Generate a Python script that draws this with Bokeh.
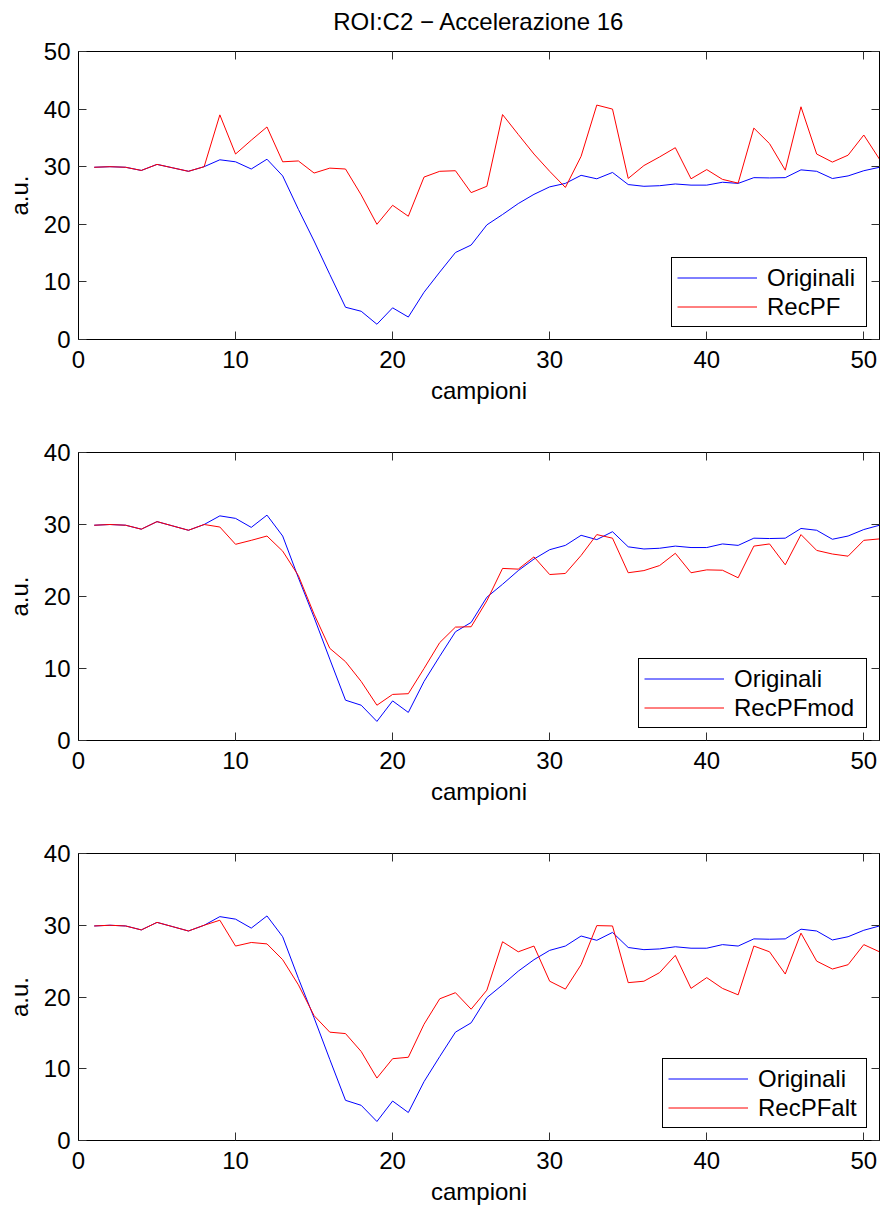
from bokeh.plotting import figure
from bokeh.layouts import column
from bokeh.models import FixedTicker, LinearAxis, Range1d
from bokeh.embed import file_html
from bokeh.resources import INLINE

campioni = list(range(1, 52))

originali = [29.9, 30.0, 29.9, 29.35, 30.4, 29.8, 29.2, 30.0, 31.2, 30.85,
             29.6, 31.3, 28.4, 22.6, 17.1, 11.3, 5.6, 4.9, 2.65, 5.5,
             3.9, 8.2, 11.7, 15.1, 16.4, 19.9, 21.7, 23.6, 25.2, 26.5,
             27.1, 28.5, 27.9, 29.0, 26.9, 26.6, 26.7, 27.0, 26.8, 26.8,
             27.3, 27.1, 28.1, 28.05, 28.1, 29.45, 29.2, 27.95, 28.4, 29.3,
             29.9]

recpf = [29.9, 30.0, 29.9, 29.35, 30.4, 29.8, 29.2, 30.0, 39.0, 32.2,
         34.6, 36.9, 30.85, 31.0, 28.9, 29.75, 29.6, 25.1, 20.0, 23.3,
         21.4, 28.2, 29.2, 29.3, 25.5, 26.6, 39.05, 35.6, 32.2, 29.2,
         26.4, 31.8, 40.7, 40.0, 27.96, 30.2, 31.7, 33.3, 27.9, 29.5,
         27.8, 27.15, 36.7, 34.0, 29.4, 40.4, 32.2, 30.8, 32.0, 35.5,
         31.3]

recpfmod = [29.9, 30.0, 29.9, 29.35, 30.4, 29.8, 29.2, 30.0, 29.65, 27.25,
            27.8, 28.4, 26.3, 22.9, 17.55, 12.8, 10.95, 8.2, 4.9, 6.4,
            6.5, 10.0, 13.6, 15.75, 15.8, 19.4, 23.9, 23.8, 25.5, 23.05,
            23.2, 25.7, 28.6, 28.1, 23.3, 23.6, 24.3, 26.0, 23.3, 23.7,
            23.65, 22.6, 27.0, 27.3, 24.4, 28.6, 26.4, 25.9, 25.6, 27.8,
            28.0]

recpfalt = [29.9, 30.0, 29.9, 29.35, 30.4, 29.8, 29.2, 30.0, 30.7, 27.1,
            27.6, 27.4, 25.2, 21.7, 17.4, 15.1, 14.9, 12.4, 8.7, 11.4,
            11.6, 16.2, 19.75, 20.6, 18.3, 20.95, 27.7, 26.3, 27.1, 22.2,
            21.1, 24.5, 29.95, 29.9, 22.0, 22.2, 23.4, 25.8, 21.2, 22.7,
            21.2, 20.3, 27.1, 26.3, 23.2, 28.9, 25.0, 23.9, 24.5, 27.3,
            26.3]

x_ticks = [0, 10, 20, 30, 40, 50]
y_ticks_1 = [0, 10, 20, 30, 40, 50]
y_ticks_23 = [0, 10, 20, 30, 40]

title_text = "ROI:C2 \u2212 Accelerazione 16"
x_label = "campioni"
y_label = "a.u."

FONT = "Liberation Sans"
FS = "24px"


def style_axis(ax, ticks, show_labels=True):
    ax.ticker = FixedTicker(ticks=ticks)
    ax.major_tick_in = 8
    ax.major_tick_out = 0
    ax.minor_tick_in = 0
    ax.minor_tick_out = 0
    ax.axis_line_color = "black"
    ax.major_tick_line_color = "#303030"
    ax.major_label_text_font = FONT
    ax.major_label_text_color = "black"
    ax.axis_label_text_font = FONT
    ax.axis_label_text_font_size = FS
    ax.axis_label_text_font_style = "normal"
    ax.axis_label_text_color = "black"
    if show_labels:
        ax.major_label_text_font_size = FS
    else:
        ax.major_label_text_font_size = "0px"
        ax.major_label_standoff = 0
        ax.major_label_overrides = {t: "" for t in ticks}


def make_panel(y_end, y_ticks, red_vals, red_label, height, top, bottom,
               title=None, label_width=94):
    p = figure(width=882, height=height,
               x_range=Range1d(0, 51), y_range=Range1d(0, y_end),
               output_backend="svg", toolbar_location=None,
               min_border_left=78, min_border_right=3,
               min_border_top=top, min_border_bottom=bottom)
    p.xgrid.visible = False
    p.ygrid.visible = False
    p.outline_line_color = "black"
    p.outline_line_width = 1
    p.outline_line_alpha = 1.0
    p.background_fill_color = "white"
    p.border_fill_color = "white"

    style_axis(p.xaxis[0], x_ticks)
    style_axis(p.yaxis[0], y_ticks)
    p.xaxis.axis_label = x_label
    p.yaxis.axis_label = y_label
    p.xaxis.major_label_standoff = 11
    p.xaxis.axis_label_standoff = 6
    p.yaxis.major_label_standoff = 8
    p.yaxis.axis_label_standoff = 8

    ax_top = LinearAxis()
    style_axis(ax_top, x_ticks, show_labels=False)
    if title is not None:
        ax_top.axis_label = title
        ax_top.axis_label_standoff = 17
    p.add_layout(ax_top, "above")
    ax_right = LinearAxis()
    style_axis(ax_right, y_ticks, show_labels=False)
    p.add_layout(ax_right, "right")

    p.line(campioni, originali, line_color="#0000FF", line_width=1,
           legend_label="Originali")
    p.line(campioni, red_vals, line_color="#FF0000", line_width=1,
           legend_label=red_label)

    leg = p.legend[0]
    leg.location = "bottom_right"
    leg.label_text_font = FONT
    leg.label_text_font_size = FS
    leg.label_text_color = "black"
    leg.border_line_color = "black"
    leg.border_line_width = 1
    leg.border_line_alpha = 1.0
    leg.background_fill_color = "white"
    leg.background_fill_alpha = 1.0
    leg.padding = 5
    leg.spacing = 0
    leg.margin = 12
    leg.glyph_width = 80
    leg.glyph_height = 29
    leg.label_height = 29
    leg.label_width = label_width
    leg.label_standoff = 10
    return p


p1 = make_panel(50, y_ticks_1, recpf, "RecPF", 412, 51, 73,
                title=title_text, label_width=94)
p2 = make_panel(40, y_ticks_23, recpfmod, "RecPFmod", 401, 40, 73,
                label_width=127)
p3 = make_panel(40, y_ticks_23, recpfalt, "RecPFalt", 394, 40, 66,
                label_width=103)

layout = column(p1, p2, p3)

with open("out.html", "w") as f:
    f.write(file_html(layout, INLINE))
